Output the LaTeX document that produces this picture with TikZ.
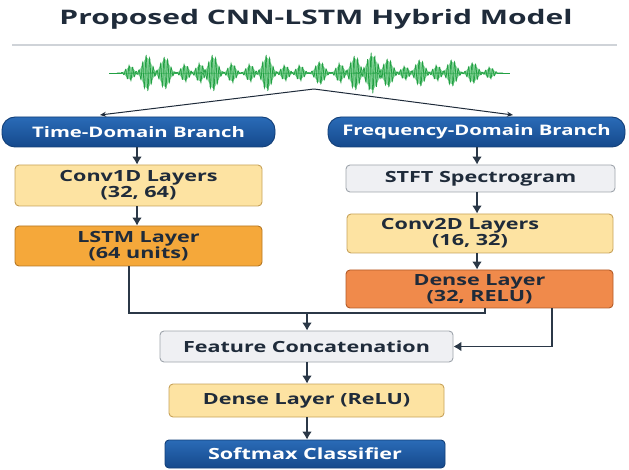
\documentclass[tikz,border=0pt]{standalone}
\usepackage{fontspec}
\setmainfont{Open Sans}[FakeStretch=1.4]
\newfontfamily\headfont{Open Sans}[FakeStretch=1.5]
\usetikzlibrary{arrows.meta}

\definecolor{ink}{HTML}{1F2B3A}
\definecolor{linkc}{HTML}{2B3847}
\definecolor{rule}{HTML}{CFD3D8}
\definecolor{wavedark}{HTML}{22A043}
\definecolor{wavelight}{HTML}{6CCB84}
\definecolor{bluetop}{HTML}{2A6BB7}
\definecolor{bluebot}{HTML}{15498C}
\definecolor{blueedge}{HTML}{123F78}
\definecolor{paleyellow}{HTML}{FDE3A2}
\definecolor{yellowedge}{HTML}{C7A25A}
\definecolor{amber}{HTML}{F5A83A}
\definecolor{amberedge}{HTML}{B57723}
\definecolor{coral}{HTML}{F08A4B}
\definecolor{coraledge}{HTML}{B35B27}
\definecolor{palegray}{HTML}{EFF0F3}
\definecolor{grayedge}{HTML}{9EA4AB}

\begin{document}
\begin{tikzpicture}[x=1pt, y=-1pt,
  box/.style={draw, rounded corners=4pt, line width=0.9pt, inner sep=0pt,
    align=center, text=ink, font=\bfseries\fontsize{15.4}{16}\selectfont},
  branch/.style={draw=blueedge, line width=0.9pt, rounded corners=13pt,
    top color=bluetop, bottom color=bluebot, inner sep=0pt, text=white,
    font=\bfseries\fontsize{14.5}{16}\selectfont},
  lightbox/.style={box, fill=paleyellow, draw=yellowedge},
  ambox/.style={box, fill=amber, draw=amberedge},
  coralbox/.style={box, fill=coral, draw=coraledge},
  graybox/.style={box, fill=palegray, draw=grayedge},
  bluebox/.style={box, draw=blueedge, top color=bluetop, bottom color=bluebot, text=white},
  flow/.style={draw=linkc, line width=1.6pt, -{Latex[length=8pt,width=10pt]}},
  joint/.style={draw=linkc, line width=1.3pt},
  split/.style={draw=ink, line width=1pt, -{Stealth[length=6pt,width=5pt]}},
  wave/.style={draw=wavedark, line width=0.7pt},
  wavefill/.style={fill=wavelight, opacity=0.8}
]
\useasboundingbox (0,0) rectangle (629,470);

% title and rule
\node[text=ink, font=\headfont\bfseries\fontsize{20}{22}\selectfont, anchor=base] (title) at (316,25)
  {Proposed CNN-LSTM Hybrid Model};
\draw[rule, line width=1.2pt] (12,45) -- (617,45);

% input signal: a flat trace with bursts of oscillation
\draw[wave] (109,73) -- (510,73);
\foreach \c/\a/\w in {130/8/5, 147/19/6, 165/17/6, 185/9/5, 200/10/5, 213/19/6,
    232/10/5, 250/9/5, 267/19/6, 285/8/5, 300/8/5, 320/12/6, 340/10/5,
    355/18/6, 372/21/7, 388/15/6, 405/7/5, 420/14/6, 437/8/5, 452/14/6,
    473/11/6, 490/6/5}{
  \fill[wavefill] plot[domain=\c-2.4*\w:\c+2.4*\w, samples=30]
      (\x, {73-0.8*\a*exp(-((\x-\c)/\w)^2)})
    -- plot[domain=\c+2.4*\w:\c-2.4*\w, samples=30]
      (\x, {73+0.8*\a*exp(-((\x-\c)/\w)^2)}) -- cycle;
  \draw[wave] plot[domain=\c-2.6*\w:\c+2.6*\w, samples=70]
      (\x, {73+\a*exp(-((\x-\c)/\w)^2)*sin(100*(\x-\c))});
}

% the two branches
\node[branch, minimum width=273pt, minimum height=30pt] (timeb) at (138.5,132) {Time-Domain Branch};
\node[branch, minimum width=297pt, minimum height=30pt] (freqb) at (476.5,132) {Frequency-Domain Branch};

\coordinate (apex) at (314,89);
\coordinate (tipL) at (100,115);
\coordinate (tipR) at (513,115);
\draw[split] (apex) -- (tipL);
\draw[split] (apex) -- (tipR);

% time-domain stack
\node[lightbox, minimum width=247pt, minimum height=41pt] (conv1) at (138.5,185.5) {Conv1D Layers\\(32, 64)};
\node[ambox, minimum width=247pt, minimum height=40pt] (lstm) at (138.5,246) {LSTM Layer\\(64 units)};

% frequency-domain stack
\node[graybox, minimum width=269pt, minimum height=27pt] (stft) at (480.5,178.5) {STFT Spectrogram};
\node[lightbox, minimum width=266pt, minimum height=39pt] (conv2) at (480,233.5)
  {Conv2D Layers\hspace*{40pt}\\(16, 32)\hspace*{20pt}};
\node[coralbox, minimum width=267pt, minimum height=38pt] (dense1) at (479.5,289) {Dense Layer\\(32, RELU)};

% fusion and classifier head
\node[graybox, minimum width=293pt, minimum height=31pt] (concat) at (306.5,346.5) {Feature Concatenation};
\node[lightbox, minimum width=275pt, minimum height=33pt] (dense2) at (306.5,400.5) {Dense Layer (ReLU)};
\node[bluebox, minimum width=280pt, minimum height=28pt] (softmax) at (305,454) {Softmax Classifier};

% vertical links
\draw[flow] (timeb.south -| 137,0) -- (conv1.north -| 137,0);
\draw[flow] (conv1.south -| 137,0) -- (lstm.north -| 137,0);
\draw[flow] (freqb.south -| 477,0) -- (stft.north -| 477,0);
\draw[flow] (stft.south -| 477,0) -- (conv2.north -| 477,0);
\draw[flow] (conv2.south -| 477,0) -- (dense1.north -| 477,0);

% merge lines into the concatenation
\coordinate (jl) at (129,313);
\coordinate (jr) at (485,313);
\coordinate (jc) at (307,313);
\coordinate (side) at (552,346.5);
\draw[joint] (lstm.south -| jl) -- (jl) -- (jr) -- (dense1.south -| jr);
\draw[flow] (jc) -- (concat.north -| jc);
\draw[joint] (dense1.south -| side) -- (side);
\draw[flow] (side) -- (concat.east);

\draw[flow] (concat.south -| 307,0) -- (dense2.north -| 307,0);
\draw[flow] (dense2.south -| 307,0) -- (softmax.north -| 307,0);
\end{tikzpicture}
\end{document}
